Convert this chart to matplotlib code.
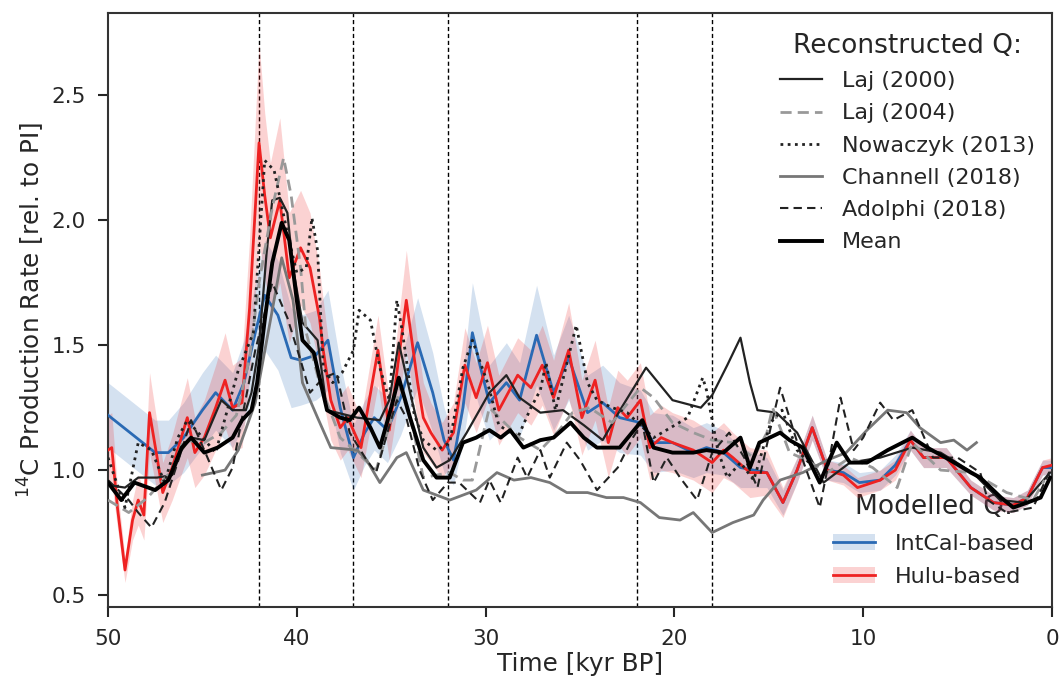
import matplotlib
matplotlib.use('Agg')
import matplotlib.pyplot as plt
import numpy as np
from matplotlib.patches import Patch
from matplotlib.lines import Line2D

# Reconstructed production rates (time in kyr BP, Q rel. to PI)
laj2000_t = [50.0, 49.1, 48.4, 47.4, 46.6, 46.1, 45.6, 44.9, 44.0, 43.4, 42.7, 42.4, 42.0, 41.6, 41.3,
             40.9, 40.5, 40.2, 39.7, 38.9, 38.4, 36.8, 35.6, 35.1, 34.6, 34.0, 33.3, 32.6, 31.9, 31.0,
             29.8, 28.9, 28.2, 27.1, 25.9, 24.8, 23.8, 22.8, 21.5, 20.1, 18.6, 18.0, 17.2, 16.5, 16.0,
             15.6, 14.6, 13.5, 12.1, 10.7, 9.1, 7.4, 5.9, 4.2, 2.75, 1.5, 0.1]
laj2000_q = [0.94, 0.93, 0.97, 0.97, 0.98, 1.08, 1.13, 1.12, 1.28, 1.24, 1.24, 1.31, 1.50, 1.87, 2.08,
             2.09, 2.03, 1.81, 1.59, 1.52, 1.24, 1.21, 1.20, 1.28, 1.51, 1.31, 1.09, 1.01, 1.04, 1.15,
             1.31, 1.38, 1.29, 1.23, 1.24, 1.18, 1.12, 1.25, 1.41, 1.28, 1.25, 1.30, 1.42, 1.53, 1.35,
             1.24, 1.23, 1.15, 0.95, 1.03, 1.05, 1.09, 1.07, 0.99, 0.88, 0.87, 0.99]

laj2004_t = [50.0, 48.9, 47.9, 46.6, 46.0, 44.9, 44.0, 43.2, 42.5, 42.0, 41.3, 40.7, 40.3, 39.8, 39.5,
             38.8, 37.7, 35.8, 34.5, 33.8, 33.3, 31.9, 31.2, 30.7, 29.8, 28.2, 27.1, 26.1, 25.4, 24.5,
             23.3, 21.8, 21.1, 20.1, 19.0, 18.0, 16.9, 15.8, 15.1, 14.8, 13.9, 13.0, 11.9, 10.7, 9.5,
             8.2, 7.4, 5.9, 4.2, 2.4, 1.0, 0.4]
laj2004_q = [0.88, 0.83, 0.89, 1.00, 1.12, 1.11, 1.15, 1.22, 1.45, 1.75, 2.05, 2.25, 2.10, 1.81, 1.55,
             1.35, 1.13, 1.00, 1.33, 1.15, 0.97, 0.99, 0.96, 0.96, 1.25, 1.13, 1.08, 1.16, 1.23, 1.25,
             1.19, 1.33, 1.29, 1.19, 1.15, 1.12, 1.11, 1.05, 1.15, 1.25, 1.07, 1.04, 0.99, 1.05, 1.01,
             0.93, 1.11, 1.00, 0.99, 0.91, 0.88, 0.96]

nowaczyk_t = [50.0, 49.1, 48.4, 47.7, 47.0, 46.3, 45.8, 44.3, 43.1, 42.3, 41.7, 41.2, 40.5, 40.0, 39.5,
              39.2, 38.9, 38.6, 38.1, 37.6, 37.0, 36.7, 36.1, 35.6, 35.1, 34.7, 34.4, 33.8, 33.3, 32.6,
              31.9, 31.2, 30.7, 29.9, 29.3, 28.3, 27.6, 27.1, 26.8, 26.3, 25.2, 24.6, 24.1, 23.3, 22.5,
              21.1, 19.3, 18.5, 18.3, 17.7, 17.2, 16.5, 15.8, 14.9, 14.3, 13.5, 12.5]
nowaczyk_q = [1.05, 0.85, 1.11, 1.08, 0.95, 1.13, 1.20, 1.07, 1.40, 1.55, 2.24, 2.20, 1.95, 1.79, 1.81,
              2.01, 1.88, 1.41, 1.35, 1.39, 1.48, 1.64, 1.60, 1.41, 1.28, 1.68, 1.55, 1.23, 1.12, 1.08,
              1.11, 1.41, 1.52, 1.35, 1.18, 1.13, 1.25, 1.32, 1.43, 1.24, 1.58, 1.35, 1.28, 1.25, 1.23,
              1.13, 1.21, 1.37, 1.32, 1.08, 0.97, 1.03, 0.96, 1.19, 1.24, 1.08, 1.00]

channell_t = [45.0, 43.8, 43.1, 42.2, 41.3, 40.8, 40.2, 39.7, 38.9, 38.2, 36.8, 36.3, 35.6, 34.7, 34.2,
              33.3, 31.9, 30.5, 29.4, 28.5, 27.6, 26.6, 25.7, 24.6, 23.6, 22.7, 21.8, 20.8, 19.7, 19.0,
              18.0, 16.9, 15.8, 15.3, 14.4, 13.2, 11.9, 10.9, 9.8, 8.7, 7.7, 7.0, 5.9, 5.2, 4.5, 4.0]
channell_q = [0.98, 1.00, 1.08, 1.27, 1.64, 1.85, 1.68, 1.35, 1.21, 1.09, 1.08, 1.04, 0.95, 1.05, 1.07,
              0.92, 0.88, 0.92, 0.99, 0.96, 0.97, 0.95, 0.91, 0.91, 0.89, 0.89, 0.87, 0.81, 0.80, 0.83,
              0.75, 0.79, 0.82, 0.88, 0.96, 0.99, 1.04, 1.07, 1.16, 1.24, 1.23, 1.17, 1.11, 1.12, 1.08, 1.11]

adolphi_t = [50.0, 48.9, 48.4, 47.7, 47.0, 46.1, 45.6, 44.9, 44.0, 43.4, 42.9, 42.2, 41.3, 40.5, 39.8,
             39.3, 38.6, 37.9, 37.2, 36.3, 35.8, 35.2, 34.7, 34.2, 33.5, 32.8, 32.0, 31.4, 30.3, 29.8,
             29.2, 28.3, 27.8, 27.1, 26.6, 25.7, 25.0, 24.1, 23.0, 22.2, 21.7, 21.1, 20.4, 19.7, 18.8,
             18.0, 17.1, 16.3, 15.6, 14.9, 14.4, 13.9, 13.2, 12.3, 11.8, 11.2, 10.5, 10.0, 9.1, 8.4,
             7.4, 6.3, 5.0, 3.8, 3.4, 2.4, 1.0, 0.1]
adolphi_q = [0.96, 0.88, 0.83, 0.77, 0.87, 1.08, 1.20, 1.08, 0.92, 1.01, 1.21, 1.48, 1.75, 1.61, 1.44,
             1.31, 1.37, 1.39, 1.15, 1.04, 0.99, 1.15, 1.28, 1.21, 1.00, 0.88, 0.95, 0.95, 0.87, 0.96,
             0.87, 1.05, 0.97, 1.08, 0.97, 1.11, 1.04, 0.92, 1.01, 1.13, 1.19, 0.95, 1.05, 0.97, 0.88,
             1.07, 1.15, 1.05, 0.93, 1.17, 1.33, 1.21, 1.04, 0.85, 1.04, 1.29, 1.08, 1.13, 1.27, 1.20,
             1.24, 1.05, 1.05, 0.99, 0.88, 0.83, 0.85, 1.00]

mean_t = [50.0, 49.3, 48.6, 47.5, 46.8, 46.1, 45.6, 44.9, 44.2, 43.4, 42.9, 42.4, 42.1, 41.7, 41.3,
          40.8, 40.4, 40.0, 39.7, 39.1, 38.4, 37.7, 37.2, 36.7, 36.1, 35.6, 35.0, 34.6, 34.0, 33.3,
          32.6, 31.9, 31.2, 30.5, 29.8, 29.2, 28.7, 28.0, 27.1, 26.4, 25.5, 24.8, 24.1, 22.9, 21.7,
          21.1, 20.1, 19.0, 18.3, 17.4, 16.5, 16.0, 15.5, 14.4, 13.9, 13.2, 12.3, 11.4, 10.7, 9.8,
          8.7, 7.4, 6.6, 5.4, 4.3, 3.8, 2.7, 2.05, 1.3, 0.6, 0.1]
mean_q = [0.95, 0.88, 0.95, 0.92, 0.96, 1.09, 1.13, 1.07, 1.09, 1.13, 1.20, 1.24, 1.35, 1.60, 1.83,
          1.99, 1.92, 1.68, 1.52, 1.47, 1.24, 1.21, 1.20, 1.25, 1.17, 1.09, 1.25, 1.37, 1.21, 1.04,
          0.97, 0.97, 1.11, 1.13, 1.16, 1.13, 1.16, 1.09, 1.12, 1.13, 1.19, 1.13, 1.09, 1.09, 1.20,
          1.09, 1.07, 1.07, 1.08, 1.07, 1.13, 1.01, 1.11, 1.15, 1.12, 1.09, 0.95, 1.11, 1.03, 1.03,
          1.08, 1.13, 1.09, 1.04, 0.99, 0.97, 0.89, 0.85, 0.87, 0.89, 0.97]

# Modelled production rates with uncertainty (half width of band)
intcal_t = [50.0, 49.0, 48.0, 47.5, 46.8, 46.0, 45.0, 44.3, 43.4, 42.8, 42.2, 41.7, 41.0, 40.3, 39.8,
            39.0, 38.35, 37.7, 37.0, 36.4, 35.9, 35.2, 34.5, 33.6, 32.8, 32.2, 31.7, 31.2, 30.7, 30.3,
            29.8, 28.9, 28.2, 27.3, 26.4, 25.6, 24.6, 23.8, 22.9, 21.8, 21.1, 20.1, 19.0, 18.3, 17.4,
            16.5, 15.1, 14.25, 13.5, 12.7, 11.9, 11.05, 10.2, 9.1, 8.3, 7.5, 6.8, 5.6, 4.3, 3.1,
            2.05, 1.3, 0.5, 0.0]
intcal_q = [1.22, 1.16, 1.10, 1.07, 1.07, 1.13, 1.24, 1.31, 1.24, 1.35, 1.55, 1.70, 1.62, 1.45, 1.44,
            1.46, 1.52, 1.25, 1.05, 1.15, 1.21, 1.16, 1.29, 1.51, 1.31, 1.12, 1.04, 1.25, 1.55, 1.42,
            1.27, 1.35, 1.28, 1.54, 1.31, 1.45, 1.23, 1.27, 1.21, 1.19, 1.11, 1.11, 1.07, 1.09, 1.07,
            1.01, 0.99, 0.87, 1.00, 1.17, 1.00, 0.99, 0.95, 0.96, 1.02, 1.12, 1.05, 1.05, 0.93, 0.87,
            0.86, 0.89, 1.01, 1.01]
intcal_err = [0.13, 0.13, 0.13, 0.13, 0.13, 0.14, 0.15, 0.15, 0.15, 0.17, 0.20, 0.22, 0.22, 0.20, 0.18,
              0.18, 0.20, 0.18, 0.13, 0.13, 0.13, 0.13, 0.15, 0.18, 0.16, 0.13, 0.10, 0.14, 0.20, 0.18,
              0.15, 0.16, 0.15, 0.20, 0.15, 0.17, 0.15, 0.15, 0.14, 0.13, 0.12, 0.11, 0.10, 0.10, 0.09,
              0.08, 0.06, 0.05, 0.05, 0.05, 0.04, 0.04, 0.04, 0.04, 0.04, 0.04, 0.04, 0.04, 0.03, 0.03,
              0.03, 0.03, 0.03, 0.03]

hulu_t = [50.0, 49.8, 49.5, 49.1, 48.7, 48.4, 48.1, 47.8, 47.4, 47.1, 46.6, 45.8, 45.4, 44.9, 44.3,
          43.8, 43.4, 42.9, 42.5, 42.0, 41.7, 41.4, 40.9, 40.4, 39.8, 39.3, 38.8, 38.6, 38.2, 37.7,
          37.3, 36.6, 35.7, 35.1, 34.2, 33.6, 33.3, 32.9, 32.3, 31.7, 31.1, 30.5, 29.9, 29.3, 28.3,
          27.6, 27.0, 26.4, 25.6, 24.9, 24.2, 23.5, 23.0, 22.5, 21.8, 21.3, 20.7, 20.1, 19.0, 18.0,
          17.4, 16.9, 16.0, 15.1, 14.25, 13.5, 12.7, 11.9, 11.05, 10.3, 9.1, 8.3, 7.5, 6.8, 5.6,
          4.3, 3.1, 2.05, 1.3, 0.5, 0.0]
hulu_q = [1.08, 1.09, 0.85, 0.60, 0.80, 0.88, 0.82, 1.23, 1.05, 0.91, 1.01, 1.21, 1.07, 1.13, 1.25,
          1.36, 1.25, 1.27, 1.65, 2.31, 2.10, 1.93, 2.08, 1.77, 1.89, 1.81, 1.61, 1.48, 1.28, 1.17,
          1.21, 1.09, 1.48, 1.16, 1.68, 1.35, 1.21, 1.15, 1.08, 1.15, 1.42, 1.29, 1.43, 1.24, 1.38,
          1.33, 1.42, 1.29, 1.48, 1.21, 1.36, 1.11, 1.25, 1.21, 1.28, 1.09, 1.13, 1.11, 1.08, 1.03,
          1.08, 1.05, 0.99, 0.99, 0.87, 1.00, 1.17, 1.00, 0.98, 0.93, 0.96, 1.00, 1.12, 1.05, 1.05,
          0.93, 0.87, 0.86, 0.89, 1.01, 1.02]
hulu_err = [0.14, 0.14, 0.08, 0.05, 0.08, 0.10, 0.10, 0.16, 0.14, 0.12, 0.13, 0.16, 0.14, 0.15, 0.17,
            0.19, 0.17, 0.18, 0.28, 0.40, 0.33, 0.30, 0.33, 0.26, 0.23, 0.22, 0.20, 0.20, 0.16, 0.13,
            0.13, 0.12, 0.14, 0.12, 0.20, 0.16, 0.14, 0.12, 0.11, 0.12, 0.15, 0.14, 0.15, 0.14, 0.15,
            0.15, 0.16, 0.15, 0.19, 0.15, 0.16, 0.14, 0.15, 0.15, 0.15, 0.13, 0.13, 0.12, 0.12, 0.12,
            0.11, 0.10, 0.10, 0.09, 0.06, 0.05, 0.05, 0.04, 0.04, 0.04, 0.04, 0.04, 0.04, 0.04, 0.04,
            0.03, 0.03, 0.03, 0.03, 0.03, 0.03]

events = [42, 37, 32, 22, 18]

text_col = '#262626'
blue = '#2a6ab4'
red = '#ee2222'

plt.rcParams['font.family'] = ['DejaVu Sans']
plt.rcParams['text.color'] = text_col
plt.rcParams['axes.labelcolor'] = text_col
plt.rcParams['xtick.color'] = text_col
plt.rcParams['ytick.color'] = text_col

fig = plt.figure(figsize=(10.61, 6.84), dpi=100)
ax = fig.add_axes([0.1018, 0.1126, 0.8897, 0.8684])

for t in events:
    ax.axvline(t, color='black', ls=(0, (3, 2)), lw=1.0, zorder=1)

ic_t = np.array(intcal_t)
ic_q = np.array(intcal_q)
ic_e = np.array(intcal_err)
hu_t = np.array(hulu_t)
hu_q = np.array(hulu_q)
hu_e = np.array(hulu_err)

ax.fill_between(ic_t, ic_q - ic_e, ic_q + ic_e, color=blue, alpha=0.2, lw=0, zorder=2)
ax.fill_between(hu_t, hu_q - hu_e, hu_q + hu_e, color=red, alpha=0.2, lw=0, zorder=2)
ax.plot(ic_t, ic_q, color=blue, lw=2, zorder=3)
ax.plot(hu_t, hu_q, color=red, lw=2, zorder=3.1)

l1, = ax.plot(laj2000_t, laj2000_q, color='#222222', lw=1.6, zorder=4, label='Laj (2000)')
l2, = ax.plot(laj2004_t, laj2004_q, color='#999999', lw=2, ls=(0, (4, 2.2)), zorder=4, label='Laj (2004)')
l3, = ax.plot(nowaczyk_t, nowaczyk_q, color='#222222', lw=2, ls=(0, (1, 1.6)), zorder=4, label='Nowaczyk (2013)')
l4, = ax.plot(channell_t, channell_q, color='#777777', lw=2, zorder=4, label='Channell (2018)')
l5, = ax.plot(adolphi_t, adolphi_q, color='#222222', lw=1.5, ls=(0, (4, 2.5)), zorder=4, label='Adolphi (2018)')
l6, = ax.plot(mean_t, mean_q, color='black', lw=2.8, zorder=5, label='Mean')

ax.set_xlim(50, 0)
ax.set_ylim(0.452, 2.83)
ax.set_xticks([50, 40, 30, 20, 10, 0])
ax.set_yticks([0.5, 1.0, 1.5, 2.0, 2.5])
ax.tick_params(direction='out', length=7, width=1.5, labelsize=15.5, pad=9)
for s in ax.spines.values():
    s.set_linewidth(1.5)
    s.set_color('#333333')
ax.set_xlabel('Time [kyr BP]', fontsize=17.8, labelpad=2)
ax.set_ylabel(r'$^{14}$C Production Rate [rel. to PI]', fontsize=17.8, labelpad=3)

leg1 = ax.legend(handles=[l1, l2, l3, l4, l5, l6], title='Reconstructed Q:', loc='upper right',
                 bbox_to_anchor=(1.003, 1.0), frameon=False, fontsize=16, title_fontsize=19,
                 handlelength=1.9, labelspacing=0.55, handletextpad=0.9)
ax.add_artist(leg1)

h_ic = (Patch(facecolor=blue, alpha=0.2, lw=0), Line2D([], [], color=blue, lw=2))
h_hu = (Patch(facecolor=red, alpha=0.2, lw=0), Line2D([], [], color=red, lw=2))
leg2 = ax.legend(handles=[h_ic, h_hu], labels=['IntCal-based', 'Hulu-based'], title='Modelled Q:',
                 loc='lower right', bbox_to_anchor=(1.003, 0.0), frameon=False, fontsize=16,
                 title_fontsize=19, handlelength=1.9, labelspacing=0.6, handletextpad=0.9)
leg2.set_zorder(1.5)

fig.savefig('out.png', dpi=100)
